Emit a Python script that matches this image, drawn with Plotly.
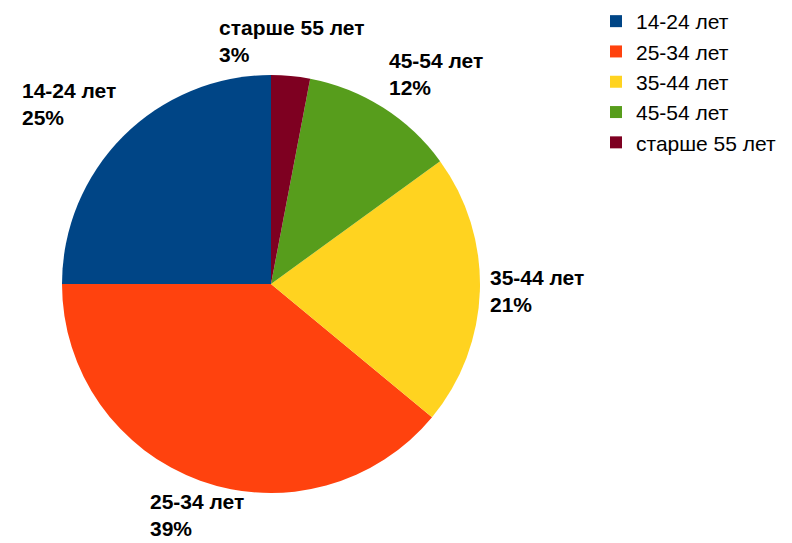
import math
import plotly.graph_objects as go

# Age groups and their shares (%)
labels = ["14-24 лет", "25-34 лет", "35-44 лет", "45-54 лет", "старше 55 лет"]
values = [25, 39, 21, 12, 3]
colors = ["#004586", "#ff420e", "#ffd320", "#579d1c", "#7e0021"]

W, H = 792, 543
cx, cy, r = 271, 284, 209  # pie centre and radius in pixels
FONT = "Liberation Sans, Arial, sans-serif"

fig = go.Figure(go.Pie(
    labels=labels,
    values=values,
    marker=dict(colors=colors, line=dict(width=0)),
    sort=False,
    direction="counterclockwise",
    rotation=-90,
    textinfo="none",
    hoverinfo="label+percent",
    domain=dict(x=[(cx - r) / W, (cx + r) / W],
                y=[1 - (cy + r) / H, 1 - (cy - r) / H]),
))

# Outside labels placed along each slice's mid-angle
total = sum(values)
cum = 0
annotations = []
for lab, v in zip(labels, values):
    mid = (cum + v / 2) / total * 2 * math.pi  # counterclockwise from top
    cum += v
    sx = -math.sin(mid)
    sy = -math.cos(mid)  # pixel y grows downward
    d = r + 8
    px, py = cx + sx * d, cy + sy * d
    xa = "center" if abs(sx) < 0.4 else ("left" if sx > 0 else "right")
    ya = "middle" if abs(sy) < 0.4 else ("top" if sy > 0 else "bottom")
    annotations.append(dict(
        x=px / W, y=1 - py / H, xref="paper", yref="paper",
        xanchor=xa, yanchor=ya, align="left", showarrow=False,
        text=f"<b>{lab}<br>{round(v / total * 100)}%</b>",
        font=dict(family=FONT, size=21, color="#000000"),
    ))

fig.update_layout(
    width=W, height=H,
    margin=dict(l=0, r=0, t=0, b=0),
    paper_bgcolor="white",
    plot_bgcolor="white",
    annotations=annotations,
    legend=dict(
        x=596 / W, y=1 - 1 / H, xanchor="left", yanchor="top",
        font=dict(family=FONT, size=21, color="#000000"),
        itemsizing="constant",
    ),
    showlegend=True,
)

fig.write_html("out.html")
